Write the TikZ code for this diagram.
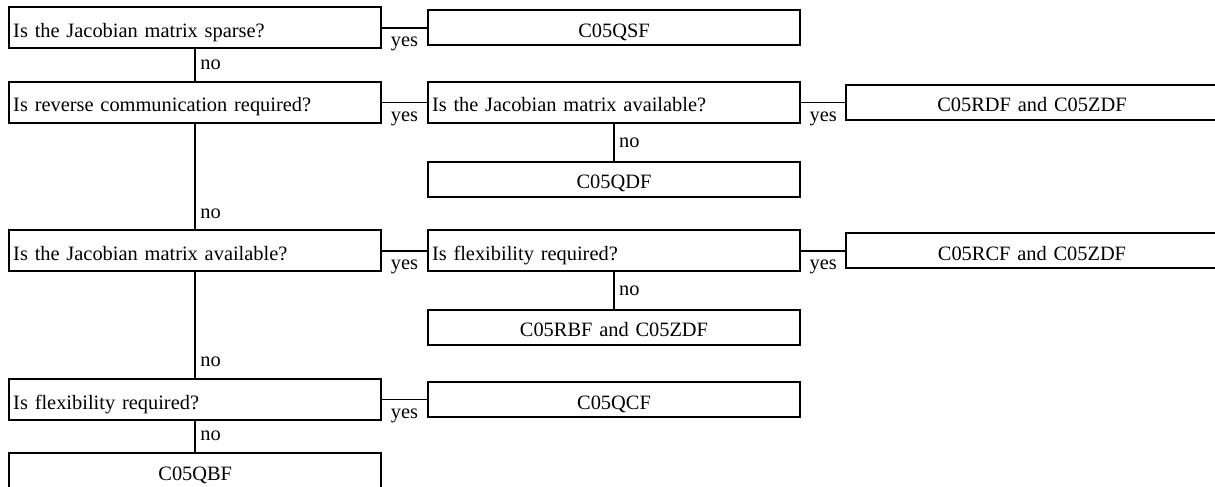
\documentclass[tikz,border=0pt]{standalone}
\usepackage{fontspec}
\setmainfont{Liberation Serif}
\newcommand\diagfont{\fontsize{20.4bp}{24bp}\selectfont\fontdimen2\font=12.6bp\relax}
\begin{document}
\begin{tikzpicture}[x=1bp,y=-1bp,
  every node/.style={font=\diagfont},
  box/.style={draw, line width=2bp, minimum width=372bp, inner xsep=4bp, inner ysep=0pt,
    text width=364bp, text height=19bp, text depth=0pt},
  qbox/.style={box, minimum height=41bp, align=left},
  rbox/.style={box, minimum height=35bp, align=center},
  lbl/.style={inner sep=0pt},
  conn/.style={line width=1.8bp}]
\useasboundingbox (0,0) rectangle (1215,487);
% column centres: 195.25, 614, 1032
\node[qbox] (q1) at (195.25,28) {Is the Jacobian matrix sparse?};
\node[rbox] (qsf) at (614,28) {C05QSF};
\node[qbox] (q2) at (195.25,102.5) {Is reverse communication required?};
\node[qbox] (qj) at (614,102.5) {Is the Jacobian matrix available?};
\node[rbox] (rdf) at (1032,102.5) {C05RDF and C05ZDF};
\node[rbox] (qdf) at (614,179.5) {C05QDF};
\node[qbox] (q3) at (195.25,251) {Is the Jacobian matrix available?};
\node[qbox] (qf) at (614,251) {Is flexibility required?};
\node[rbox] (rcf) at (1032,251) {C05RCF and C05ZDF};
\node[rbox] (rbf) at (614,327.5) {C05RBF and C05ZDF};
\node[qbox] (q4) at (195.25,399.5) {Is flexibility required?};
\node[rbox] (qcf) at (614,399.5) {C05QCF};
\node[rbox] (qbf) at (195.25,470.5) {C05QBF};
% yes connectors
\draw[conn] (q1.east) -- (qsf.west);
\draw[conn] (q2.east) -- (qj.west);
\draw[conn] (qj.east) -- (rdf.west);
\draw[conn] (q3.east) -- (qf.west);
\draw[conn] (qf.east) -- (rcf.west);
\draw[conn] (q4.east) -- (qcf.west);
\node[lbl, anchor=base west] (y1) at ([shift={(8.5,19)}]q1.east) {yes};
\node[lbl, anchor=base west] (y2) at ([shift={(8.5,19)}]q2.east) {yes};
\node[lbl, anchor=base west] (y3) at ([shift={(8.5,19)}]qj.east) {yes};
\node[lbl, anchor=base west] (y4) at ([shift={(8.5,19)}]q3.east) {yes};
\node[lbl, anchor=base west] (y5) at ([shift={(8.5,19)}]qf.east) {yes};
\node[lbl, anchor=base west] (y6) at ([shift={(8.5,19)}]q4.east) {yes};
% no connectors
\draw[conn] (q1.south) -- (q2.north);
\draw[conn] (q2.south) -- (q3.north);
\draw[conn] (q3.south) -- (q4.north);
\draw[conn] (q4.south) -- (qbf.north);
\draw[conn] (qj.south) -- (qdf.north);
\draw[conn] (qf.south) -- (rbf.north);
\node[lbl, anchor=base west] (n1) at ([shift={(5,-11)}]q2.north) {no};
\node[lbl, anchor=base west] (n2) at ([shift={(5,-11)}]q3.north) {no};
\node[lbl, anchor=base west] (n3) at ([shift={(5,-11)}]q4.north) {no};
\node[lbl, anchor=base west] (n4) at ([shift={(5,-11)}]qbf.north) {no};
\node[lbl, anchor=base west] (n5) at ([shift={(5,-13)}]qdf.north) {no};
\node[lbl, anchor=base west] (n6) at ([shift={(5,-13)}]rbf.north) {no};
\end{tikzpicture}
\end{document}
